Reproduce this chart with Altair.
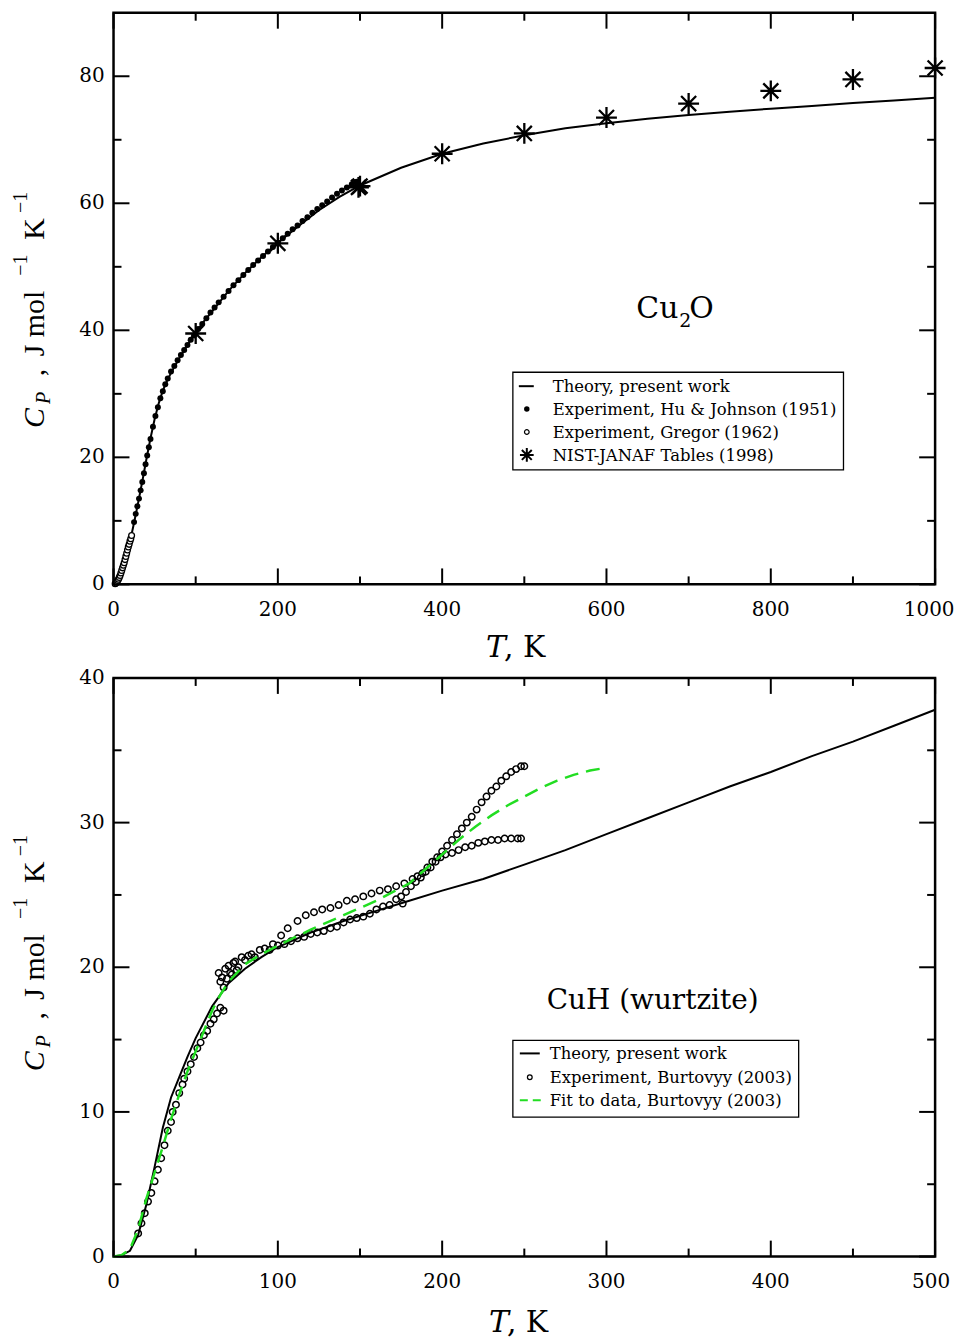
import altair as alt
import pandas as pd

FONT = "DejaVu Serif"
RFONT = "Liberation Serif"

# ---------------- Top panel: Cu2O ----------------
cu2o_theory_T = [0, 5, 10, 15, 20, 25, 30, 35, 40, 45, 50, 55, 60, 65, 70, 80, 90, 100, 110, 120,
                 140, 160, 180, 200, 225, 250, 275, 300, 350, 400, 450, 500, 550, 600, 650, 700,
                 750, 800, 850, 900, 950, 1000]
cu2o_theory_Cp = [0, 0.3, 1.6, 3.8, 6.7, 9.7, 12.9, 16.2, 19.7, 23.0, 26.0, 28.5, 30.5, 32.0, 33.3,
                  35.6, 37.7, 39.6, 41.4, 43.0, 46.2, 49.0, 51.5, 53.8, 56.4, 58.9, 61.0, 62.8,
                  65.6, 67.8, 69.4, 70.7, 71.8, 72.6, 73.3, 73.9, 74.4, 74.9, 75.3, 75.8, 76.2, 76.6]

hu_T = [25, 27, 29, 31, 33, 35, 37, 39, 41, 43, 45, 48, 51, 54, 57, 60, 63, 66,
        70, 74, 78, 82, 86, 90, 94, 98, 103, 108, 113, 118, 123, 128, 134, 140, 146, 152, 158,
        164, 170, 176, 182, 188, 194, 200, 206, 212, 218, 224, 230, 236, 242, 248, 254, 260,
        266, 272, 278, 284, 290, 296]
hu_Cp = [9.8, 11.1, 12.3, 13.5, 14.8, 16.1, 17.5, 18.9, 20.3, 21.6, 22.9,
         24.8, 26.5, 27.9, 29.3, 30.4, 31.5, 32.4, 33.5, 34.4, 35.3, 36.1, 36.9, 37.7, 38.5,
         39.2, 40.2, 41.0, 41.9, 42.8, 43.6, 44.4, 45.3, 46.2, 47.1, 47.9, 48.7, 49.5, 50.3,
         51.0, 51.7, 52.4, 53.1, 53.8, 54.5, 55.2, 55.9, 56.5, 57.2, 57.8, 58.5, 59.1, 59.7,
         60.3, 60.9, 61.5, 62.0, 62.5, 63.0, 63.4]

gregor_T = [2, 3, 4, 5, 6, 7, 8, 9, 10, 11, 12, 13, 14, 15, 16, 17, 18, 19, 20, 21, 22]
gregor_Cp = [0.1, 0.2, 0.4, 0.6, 0.8, 1.1, 1.4, 1.8, 2.2, 2.6, 3.0, 3.4, 3.9, 4.4, 4.9, 5.4,
             5.9, 6.3, 6.8, 7.2, 7.7]

nist_T = [100, 200, 298.15, 300, 400, 500, 600, 700, 800, 900, 1000]
nist_Cp = [39.5, 53.7, 62.5, 62.7, 67.8, 71.0, 73.5, 75.7, 77.7, 79.5, 81.3]

top_x_major = [0, 200, 400, 600, 800, 1000]
top_x_labels = ["0", "200", "400", "600", "800", "1000"]
top_x_minor = [100, 300, 500, 700, 900]
top_y_major = [0, 20, 40, 60, 80]
top_y_minor = [10, 30, 50, 70]

top_legend = ["Theory, present work", "Experiment, Hu & Johnson (1951)",
              "Experiment, Gregor (1962)", "NIST-JANAF Tables (1998)"]

# ---------------- Bottom panel: CuH ----------------
cuh_theory_T = [0, 5, 10, 15, 20, 25, 30, 35, 40, 45, 50, 60, 70, 80, 90, 100, 120, 140, 160,
                180, 200, 225, 250, 275, 300, 325, 350, 375, 400, 425, 450, 475, 500]
cuh_theory_Cp = [0, 0.1, 0.4, 1.5, 3.6, 6.2, 8.9, 11.0, 12.4, 13.8, 15.1, 17.3, 18.9, 19.9,
                 20.7, 21.4, 22.4, 23.2, 23.9, 24.6, 25.3, 26.1, 27.1, 28.1, 29.2, 30.3, 31.4,
                 32.5, 33.5, 34.6, 35.6, 36.7, 37.8]

fit_T = [0, 5, 10, 15, 20, 25, 30, 35, 40, 45, 50, 55, 60, 65, 70, 80, 90, 100, 120, 140, 160,
         180, 200, 210, 220, 230, 240, 250, 260, 270, 280, 290, 300]
fit_Cp = [0, 0.1, 0.5, 1.9, 4.0, 5.8, 7.6, 9.5, 11.2, 12.8, 14.2, 15.6, 17.0, 18.1, 19.0, 20.2,
          20.9, 21.5, 22.6, 23.6, 24.6, 25.8, 27.8, 28.8, 29.7, 30.5, 31.2, 31.8, 32.4, 32.9,
          33.3, 33.6, 33.8]

exp_T = [15, 17, 19, 21, 23, 25, 27, 29, 31, 33, 35, 36, 38, 40, 42, 43, 45, 47, 49, 51, 53,
         55, 57, 59, 61, 63, 65, 67,
         64, 65, 66, 67, 68, 69, 70, 71, 72, 73, 74, 75, 76, 78, 80, 82, 84, 86, 89, 92, 95, 97,
         102, 106, 112, 117, 122, 127, 132, 137, 142, 147, 152, 157, 162, 167, 172, 177, 182,
         185, 188, 191, 194, 197, 200, 203, 206, 209, 212, 215, 218, 221, 224, 227, 230, 233,
         236, 239, 242, 245, 248, 250,
         100, 104, 108, 112, 116, 120, 124, 128, 132, 136, 140, 144, 148, 152, 156, 160, 164,
         168, 172, 175, 178, 181, 184, 187, 190, 193, 196, 199, 202, 206, 210, 214, 218, 222,
         226, 230, 234, 238, 242, 246, 248, 176]
exp_Cp = [1.6, 2.3, 3.0, 3.8, 4.4, 5.2, 6.0, 6.8, 7.7, 8.7, 9.3, 10.0, 10.5, 11.3, 11.9, 12.3,
          12.8, 13.3, 13.8, 14.4, 14.8, 15.3, 15.6, 16.1, 16.4, 16.8, 17.2, 17.0,
          19.6, 19.0, 19.3, 18.6, 19.9, 19.2, 20.1, 19.6, 19.5, 20.3, 20.4, 19.8, 20.0, 20.7,
          20.5, 20.8, 20.9, 20.7, 21.2, 21.3, 21.2, 21.6,
          22.2, 22.7, 23.2, 23.6, 23.8, 24.0, 24.1, 24.3, 24.6, 24.7, 24.9, 25.1, 25.3, 25.4,
          25.6, 25.8, 26.1, 26.3, 26.5, 26.9, 27.3, 27.6, 28.0, 28.4, 28.8, 29.2, 29.6, 30.0,
          30.4, 30.9, 31.4, 31.8, 32.2, 32.5, 32.9, 33.2, 33.5, 33.7, 33.9, 33.9,
          21.5, 21.6, 21.8, 22.0, 22.1, 22.3, 22.4, 22.5, 22.7, 22.8, 23.1, 23.3, 23.4, 23.5,
          23.7, 24.0, 24.2, 24.3, 24.7, 24.9, 25.2, 25.6, 25.9, 26.2, 26.6, 26.9, 27.3, 27.6,
          27.8, 27.9, 28.1, 28.3, 28.4, 28.6, 28.7, 28.8, 28.8, 28.9, 28.9, 28.9, 28.9, 24.4]

bot_x_major = [0, 100, 200, 300, 400, 500]
bot_x_labels = ["0", "100", "200", "300", "400", "500"]
bot_x_minor = [50, 150, 250, 350, 450]
bot_y_major = [0, 10, 20, 30, 40]
bot_y_minor = [5, 15, 25, 35]

bot_legend = ["Theory, present work", "Experiment, Burtovyy (2003)", "Fit to data, Burtovyy (2003)"]

GREEN = "#22dd22"
# star symbol: plus + cross
ASTERISK = "M0,-1L0,1M-1,0L1,0M-0.72,-0.72L0.72,0.72M-0.72,0.72L0.72,-0.72"

W = 825
H_TOP = 574
H_BOT = 581


def one(**kw):
    return pd.DataFrame([kw]) if kw else pd.DataFrame([{"k": 0}])


def text_piece(txt, x, y, size, italic=False, angle=0, align="left", baseline="alphabetic", font=FONT):
    kw = dict(font=font, fontSize=size, align=align, baseline=baseline, color="black",
              fontStyle="italic" if italic else "normal")
    if angle:
        kw["angle"] = angle
    return alt.Chart(one(t=txt)).mark_text(**kw).encode(
        text="t:N", x=alt.value(x), y=alt.value(y))


def tick_layers(xmaj, xmin, ymaj, ymin, xs, ys, Wd, Ht, xlabels, last_dx):
    out = []
    for vals, L in [(xmaj, 16), (xmin, 8)]:
        df = pd.DataFrame({"T": vals})
        b = alt.Chart(df).mark_rule(color="black", strokeWidth=2)
        out.append(b.encode(x=alt.X("T:Q", scale=xs, axis=None), y=alt.value(Ht), y2=alt.value(Ht - L)))
        out.append(b.encode(x=alt.X("T:Q", scale=xs, axis=None), y=alt.value(0), y2=alt.value(L)))
    for vals, L in [(ymaj, 16), (ymin, 8)]:
        df = pd.DataFrame({"Cp": vals})
        b = alt.Chart(df).mark_rule(color="black", strokeWidth=2)
        out.append(b.encode(y=alt.Y("Cp:Q", scale=ys, axis=None), x=alt.value(0), x2=alt.value(L)))
        out.append(b.encode(y=alt.Y("Cp:Q", scale=ys, axis=None), x=alt.value(Wd), x2=alt.value(Wd - L)))
    # tick labels as text marks placed through the scales
    lab_df = pd.DataFrame({"T": xmaj[:-1], "lab": xlabels[:-1]})
    out.append(alt.Chart(lab_df).mark_text(font=FONT, fontSize=20, align="center",
                                           baseline="alphabetic", color="black").encode(
        x=alt.X("T:Q", scale=xs, axis=None), y=alt.value(Ht + 32), text="lab:N"))
    last_df = pd.DataFrame({"T": xmaj[-1:], "lab": xlabels[-1:]})
    out.append(alt.Chart(last_df).mark_text(font=FONT, fontSize=20, align="center", dx=last_dx,
                                            baseline="alphabetic", color="black").encode(
        x=alt.X("T:Q", scale=xs, axis=None), y=alt.value(Ht + 32), text="lab:N"))
    ylab_df = pd.DataFrame({"Cp": ymaj, "lab": [str(v) for v in ymaj]})
    out.append(alt.Chart(ylab_df).mark_text(font=FONT, fontSize=20, align="right",
                                            baseline="middle", color="black").encode(
        y=alt.Y("Cp:Q", scale=ys, axis=None), x=alt.value(-9), text="lab:N"))
    return out


def y_title(dy):
    # composed rotated title  C_P ,  J mol^-1 K^-1
    return [
        text_piece("C", -70, 417 + dy, 30, italic=True, angle=270, font=RFONT),
        text_piece("P", -64, 393 + dy, 20, italic=True, angle=270, font=RFONT),
        text_piece(",", -70, 365 + dy, 30, angle=270, font=RFONT),
        text_piece("J mol", -70, 345 + dy, 30, angle=270, font=RFONT),
        text_piece("\u22121", -87, 264 + dy, 20, angle=270, font=RFONT),
        text_piece("K", -70, 228 + dy, 30, angle=270, font=RFONT),
        text_piece("\u22121", -87, 201 + dy, 20, angle=270, font=RFONT),
    ]


def x_title(x0, y0):
    return [text_piece("T", x0, y0, 30, italic=True),
            text_piece(",  K", x0 + 18, y0, 30)]


def anchor(y):
    return alt.Chart(one()).mark_rule(strokeOpacity=0, strokeWidth=0).encode(
        x=alt.value(-112), x2=alt.value(848), y=alt.value(y))


# ---------------- build top panel ----------------
xs_top = alt.Scale(domain=[0, 1000], nice=False, zero=False)
ys_top = alt.Scale(domain=[0, 90], nice=False, zero=False)

df_th = pd.DataFrame({"T": cu2o_theory_T, "Cp": cu2o_theory_Cp})
df_hu = pd.DataFrame({"T": hu_T, "Cp": hu_Cp})
df_gr = pd.DataFrame({"T": gregor_T, "Cp": gregor_Cp})
df_ni = pd.DataFrame({"T": nist_T, "Cp": nist_Cp})

top_line = alt.Chart(df_th).mark_line(color="black", strokeWidth=2).encode(
    x=alt.X("T:Q", scale=xs_top, axis=None),
    y=alt.Y("Cp:Q", scale=ys_top, axis=None))
top_hu = alt.Chart(df_hu).mark_point(shape="circle", filled=True, color="black", size=36, opacity=1).encode(
    x=alt.X("T:Q", scale=xs_top, axis=None), y=alt.Y("Cp:Q", scale=ys_top, axis=None))
top_gr = alt.Chart(df_gr).mark_point(shape="circle", color="black", size=34, fill="white",
                                     fillOpacity=1, strokeWidth=1.3, opacity=1).encode(
    x=alt.X("T:Q", scale=xs_top, axis=None), y=alt.Y("Cp:Q", scale=ys_top, axis=None))
top_ni = alt.Chart(df_ni).mark_point(shape=ASTERISK, filled=False, color="black", size=440,
                                     strokeWidth=2.3, opacity=1).encode(
    x=alt.X("T:Q", scale=xs_top, axis=None), y=alt.Y("Cp:Q", scale=ys_top, axis=None))

# legend (top)
lg_top = [alt.Chart(one()).mark_rect(fill="white", stroke="black", strokeWidth=1.3).encode(
    x=alt.value(401), x2=alt.value(733), y=alt.value(361), y2=alt.value(459))]
rows_top = [375, 398, 421, 444]
lg_top.append(alt.Chart(one()).mark_rule(color="black", strokeWidth=2).encode(
    x=alt.value(407), x2=alt.value(422), y=alt.value(rows_top[0])))
lg_top.append(alt.Chart(one()).mark_point(shape="circle", filled=True, color="black", size=30, opacity=1).encode(
    x=alt.value(415), y=alt.value(rows_top[1])))
lg_top.append(alt.Chart(one()).mark_point(shape="circle", filled=False, color="black", size=22,
                                          strokeWidth=1.2, opacity=1).encode(
    x=alt.value(415), y=alt.value(rows_top[2])))
lg_top.append(alt.Chart(one()).mark_point(shape=ASTERISK, filled=False, color="black", size=190,
                                          strokeWidth=2, opacity=1).encode(
    x=alt.value(415), y=alt.value(rows_top[3])))
for lab, ry in zip(top_legend, rows_top):
    lg_top.append(text_piece(lab, 441, ry + 6, 16.5))

anno_top = [text_piece("Cu", 525, 307, 30), text_piece("2", 568, 316, 19), text_piece("O", 578, 307, 30)]

top = alt.layer(
    top_line, top_hu, top_gr, top_ni,
    *tick_layers(top_x_major, top_x_minor, top_y_major, top_y_minor, xs_top, ys_top, W, H_TOP,
                 top_x_labels, -6),
    *lg_top, *anno_top, *y_title(0), *x_title(374, 647), anchor(-8)
).properties(width=W, height=H_TOP)

# ---------------- build bottom panel ----------------
xs_bot = alt.Scale(domain=[0, 500], nice=False, zero=False)
ys_bot = alt.Scale(domain=[0, 40], nice=False, zero=False)

df_bth = pd.DataFrame({"T": cuh_theory_T, "Cp": cuh_theory_Cp})
df_fit = pd.DataFrame({"T": fit_T, "Cp": fit_Cp})
df_exp = pd.DataFrame({"T": exp_T, "Cp": exp_Cp})

bot_line = alt.Chart(df_bth).mark_line(color="black", strokeWidth=2).encode(
    x=alt.X("T:Q", scale=xs_bot, axis=None),
    y=alt.Y("Cp:Q", scale=ys_bot, axis=None))
bot_exp = alt.Chart(df_exp).mark_point(shape="circle", filled=False, color="black", size=42,
                                       strokeWidth=1.5, opacity=1).encode(
    x=alt.X("T:Q", scale=xs_bot, axis=None), y=alt.Y("Cp:Q", scale=ys_bot, axis=None))
bot_fit = alt.Chart(df_fit).mark_line(color=GREEN, strokeWidth=2.5, strokeDash=[14, 8]).encode(
    x=alt.X("T:Q", scale=xs_bot, axis=None), y=alt.Y("Cp:Q", scale=ys_bot, axis=None))

lg_bot = [alt.Chart(one()).mark_rect(fill="white", stroke="black", strokeWidth=1.3).encode(
    x=alt.value(401), x2=alt.value(688), y=alt.value(364), y2=alt.value(441))]
rows_bot = [377, 401, 424]
lg_bot.append(alt.Chart(one()).mark_rule(color="black", strokeWidth=2).encode(
    x=alt.value(408), x2=alt.value(428), y=alt.value(rows_bot[0])))
lg_bot.append(alt.Chart(one()).mark_point(shape="circle", filled=False, color="black", size=22,
                                          strokeWidth=1.3, opacity=1).encode(
    x=alt.value(418), y=alt.value(rows_bot[1])))
lg_bot.append(alt.Chart(one()).mark_rule(color=GREEN, strokeWidth=2, strokeDash=[8, 5]).encode(
    x=alt.value(408), x2=alt.value(429), y=alt.value(rows_bot[2])))
for lab, ry in zip(bot_legend, rows_bot):
    lg_bot.append(text_piece(lab, 438, ry + 6, 16.5))

anno_bot = [text_piece("CuH (wurtzite)", 435, 332, 28)]

bottom = alt.layer(
    bot_line, bot_exp, bot_fit,
    *tick_layers(bot_x_major, bot_x_minor, bot_y_major, bot_y_minor, xs_bot, ys_bot, W, H_BOT,
                 bot_x_labels, -4),
    *lg_bot, *anno_bot, *y_title(-22), *x_title(377, 657)
).properties(width=W, height=H_BOT)

chart = alt.vconcat(top, bottom, spacing=94, bounds="flush").properties(
    padding=0, background="white"
).configure_view(stroke="black", strokeWidth=2.5).configure_concat(spacing=94)

chart.save("out.html", embed_options={"renderer": "svg", "actions": False})
